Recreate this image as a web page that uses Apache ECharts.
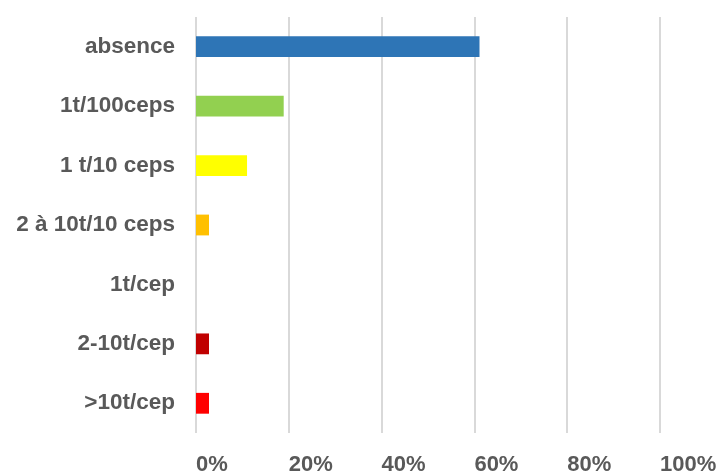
<!DOCTYPE html>
<html>
<head>
<meta charset="utf-8">
<script src="https://cdn.jsdelivr.net/npm/echarts@6/dist/echarts.min.js"></script>
<style>
  html, body { margin: 0; padding: 0; background: #fff; }
  #chart { width: 721px; height: 476px; }
</style>
</head>
<body>
<div id="chart"></div>
<script>
// Infestation classes, top to bottom
const categories = ['absence', '1t/100ceps', '1 t/10 ceps', '2 à 10t/10 ceps', '1t/cep', '2-10t/cep', '>10t/cep'];
// Share of plots per class (%)
const shares = [61.1, 18.9, 11.0, 2.8, 0, 2.8, 2.8];
const barColors = ['#2e75b6', '#92d050', '#ffff00', '#ffc000', '#7f7f7f', '#c00000', '#ff0000'];
const xTicks = [0, 20, 40, 60, 80, 100];

const chart = echarts.init(document.getElementById('chart'), null, { renderer: 'canvas' });
const fontBase = { color: '#595959', fontWeight: 'bold', fontFamily: 'Liberation Sans, Arial, sans-serif' };

chart.setOption({
  animation: false,
  grid: { left: 196, right: 61, top: 17, bottom: 39, containLabel: false },
  xAxis: {
    type: 'value',
    min: xTicks[0],
    max: xTicks[xTicks.length - 1],
    interval: 20,
    axisLine: { show: false },
    axisTick: { show: false },
    splitLine: { show: true, lineStyle: { color: '#d9d9d9', width: 2 } },
    axisLabel: Object.assign({}, fontBase, {
      fontSize: 22,
      formatter: v => v + '%',
      align: 'left',
      margin: 21
    })
  },
  yAxis: {
    type: 'category',
    data: categories,
    inverse: true,
    axisLine: { show: false },
    axisTick: { show: false },
    axisLabel: Object.assign({}, fontBase, { fontSize: 22.5, margin: 21 })
  },
  series: [{
    type: 'bar',
    data: shares.map((v, i) => ({ value: v, itemStyle: { color: barColors[i] } })),
    barWidth: '35%'
  }]
});
</script>
</body>
</html>
